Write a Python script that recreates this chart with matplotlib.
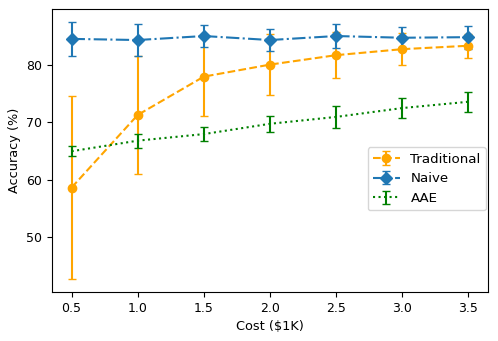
import matplotlib
matplotlib.use("Agg")
import matplotlib.pyplot as plt

cost = [0.5, 1.0, 1.5, 2.0, 2.5, 3.0, 3.5]
trad_mean = [58.6, 71.3, 78.0, 80.1, 81.75, 82.8, 83.4]
trad_err = [16.0, 10.3, 6.8, 5.3, 4.0, 2.8, 2.1]
naive_mean = [84.6, 84.4, 85.1, 84.4, 85.1, 84.8, 84.9]
naive_err = [3.0, 2.8, 1.9, 1.9, 2.1, 1.8, 2.0]
aae_mean = [64.95, 66.8, 67.95, 69.75, 70.95, 72.5, 73.6]
aae_err = [0.85, 1.2, 1.25, 1.45, 1.9, 1.7, 1.7]

fig = plt.figure(figsize=(4.98, 3.41), dpi=100)
ax = fig.add_axes([0.104, 0.144, 0.876, 0.83])
ax.errorbar(cost, trad_mean, yerr=trad_err, color='orange', linestyle='--', marker='o', capsize=3, label='Traditional')
ax.errorbar(cost, naive_mean, yerr=naive_err, color='C0', linestyle='-.', marker='D', capsize=3, label='Naive')
ax.errorbar(cost, aae_mean, yerr=aae_err, color='green', linestyle=':', capsize=3, label='AAE')
ax.set_xlabel('Cost ($1K)', fontsize=9.3)
ax.set_ylabel('Accuracy (%)', fontsize=9.3)
ax.set_xticks(cost)
ax.tick_params(labelsize=9)
ax.legend(loc='center right', bbox_to_anchor=(1.0, 0.4), fontsize=9.6, borderaxespad=0.15)
fig.savefig('out.png', dpi=100)
